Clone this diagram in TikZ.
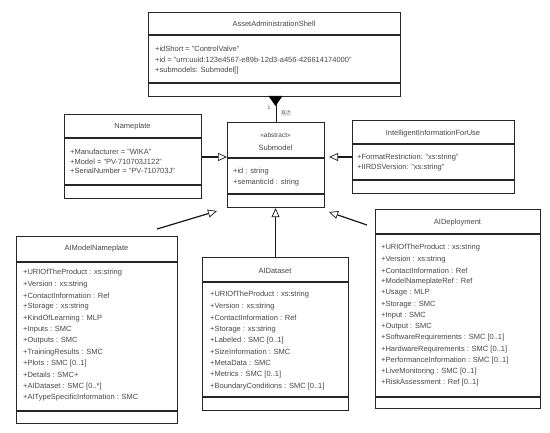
\documentclass[tikz,border=0pt]{standalone}
\usepackage{fontspec}
\setmainfont{Liberation Sans}
\usetikzlibrary{arrows.meta}
\begin{document}
\begin{tikzpicture}[x=1pt,y=-1pt,
  umlbox/.style={draw=black!85, line width=1.1pt, fill=white, inner sep=0pt, anchor=north west},
  sepline/.style={draw=black!85, line width=1.1pt},
  cname/.style={font=\fontsize{7.5}{8}\selectfont, text=black!72, anchor=center, inner sep=0pt},
  attr/.style={font=\fontsize{7.5}{8}\selectfont, text=black!72, anchor=west, inner sep=0pt},
  gen/.style={draw=black!90, line width=1.2pt, -{Triangle[length=9pt, width=8pt, fill=white, line width=0.7pt]}},
  comp/.style={draw=black!90, line width=1.1pt},
  mult/.style={font=\fontsize{5}{6}\selectfont, text=black!75, inner sep=0.8pt},
]
\useasboundingbox[fill=white] (0,0) rectangle (550,433);
\coordinate (y157) at (0,157);

\coordinate (g1s) at (157,229);
\coordinate (g1e) at (217,211);
\coordinate (g3s) at (367,225);
\coordinate (g3e) at (329,212);

% AssetAdministrationShell
\node[umlbox, minimum width=252pt, minimum height=84pt] (aas) at (148,12) {};
\draw[sepline] (148,35) -- (400,35);
\draw[sepline] (148,83) -- (400,83);
\node[cname] (aasn) at (274,24) {AssetAdministrationShell};
\node[attr] (aas1) at (155,49) {+idShort = "ControlValve"};
\node[attr] (aas2) at (155,60) {+id = "urn:uuid:123e4567-e89b-12d3-a456-426614174000"};
\node[attr] (aas3) at (155,71) {+submodels: Submodel[]};

% Submodel
\node[umlbox, minimum width=97pt, minimum height=85pt] (sm) at (227,122) {};
\draw[sepline] (227,158) -- (324,158);
\draw[sepline] (227,194) -- (324,194);
\node[cname, font=\fontsize{6.5}{7}\selectfont] (sma) at (275.5,135) {«abstract»};
\node[cname] (smn) at (275.5,148) {Submodel};
\node[attr] (sm1) at (233,172) {+id : string};
\node[attr] (sm2) at (233,183) {+semanticId : string};

% Nameplate
\node[umlbox, minimum width=137pt, minimum height=84pt] (np) at (64,114) {};
\draw[sepline] (64,138) -- (201,138);
\draw[sepline] (64,185) -- (201,185);
\node[cname] (npn) at (132.5,127) {Nameplate};
\node[attr] (np1) at (70,152) {+Manufacturer = "WIKA"};
\node[attr] (np2) at (70,161.5) {+Model = "PV-710703J122"};
\node[attr] (np3) at (70,171) {+SerialNumber = "PV-710703J"};

% IntelligentInformationForUse
\node[umlbox, minimum width=162pt, minimum height=73pt] (iifu) at (352,120) {};
\draw[sepline] (352,144) -- (514,144);
\draw[sepline] (352,180) -- (514,180);
\node[cname] (iifun) at (433,134) {IntelligentInformationForUse};
\node[attr] (iifu1) at (357,158) {+FormatRestriction: "xs:string"};
\node[attr] (iifu2) at (357,168) {+IIRDSVersion: "xs:string"};

% AIModelNameplate
\node[umlbox, minimum width=161pt, minimum height=187pt] (amn) at (16,236) {};
\draw[sepline] (16,262) -- (177,262);
\draw[sepline] (16,411) -- (177,411);
\node[cname] (amnn) at (96.5,249) {AIModelNameplate};
\foreach \t [count=\i from 0] in {+URIOfTheProduct : xs:string, +Version : xs:string, +ContactInformation : Ref, +Storage : xs:string, +KindOfLearning : MLP, +Inputs : SMC, +Outputs : SMC, +TrainingResults : SMC, +Plots : SMC [0..1], +Details : SMC+, +AIDataset : SMC [0..*], +AITypeSpecificInformation : SMC}
  \node[attr] (amn-\i) at (23,273+11.35*\i) {\t};

% AIDataset
\node[umlbox, minimum width=146pt, minimum height=153pt] (ds) at (202,257) {};
\draw[sepline] (202,282) -- (348,282);
\draw[sepline] (202,397) -- (348,397);
\node[cname] (dsn) at (275,271) {AIDataset};
\foreach \t [count=\i from 0] in {+URIOfTheProduct : xs:string, +Version : xs:string, +ContactInformation : Ref, +Storage : xs:string, +Labeled : SMC [0..1], +SizeInformation : SMC, +MetaData : SMC, +Metrics : SMC [0..1], +BoundaryConditions : SMC [0..1]}
  \node[attr] (ds-\i) at (210,295+11.4*\i) {\t};

% AIDeployment
\node[umlbox, minimum width=165pt, minimum height=199pt] (dep) at (375,209) {};
\draw[sepline] (375,234) -- (540,234);
\draw[sepline] (375,397) -- (540,397);
\node[cname] (depn) at (457.5,223) {AIDeployment};
\foreach \t [count=\i from 0] in {+URIOfTheProduct : xs:string, +Version : xs:string, +ContactInformation : Ref, +ModelNameplateRef : Ref, +Usage : MLP, +Storage : SMC, +Input : SMC, +Output : SMC, +SoftwareRequirements : SMC [0..1], +HardwareRequirements : SMC [0..1], +PerformanceInformation : SMC [0..1], +LiveMonitoring : SMC [0..1], +RiskAssessment : Ref [0..1]}
  \node[attr] (dep-\i) at (381,248+11.25*\i) {\t};

% Composition AAS -- Submodel
\draw[comp] (sm.north |- aas.south) -- (sm.north);
\fill[black] (268.5,96) -- (282.5,96) -- (275.5,106) -- cycle;
\node[mult] (m1) at (269,108) {1};
\node[mult, fill=black!12] (m2) at (286,113) {0..*};

% Generalizations
\draw[gen] (np.east |- y157) -- (sm.west |- y157);
\draw[gen, shorten >=4pt] (iifu.west |- y157) -- (sm.east |- y157);
\draw[gen] (g1s) -- (g1e);
\draw[gen] (ds.north) -- (ds.north |- sm.south);
\draw[gen] (g3s) -- (g3e);
\end{tikzpicture}
\end{document}
